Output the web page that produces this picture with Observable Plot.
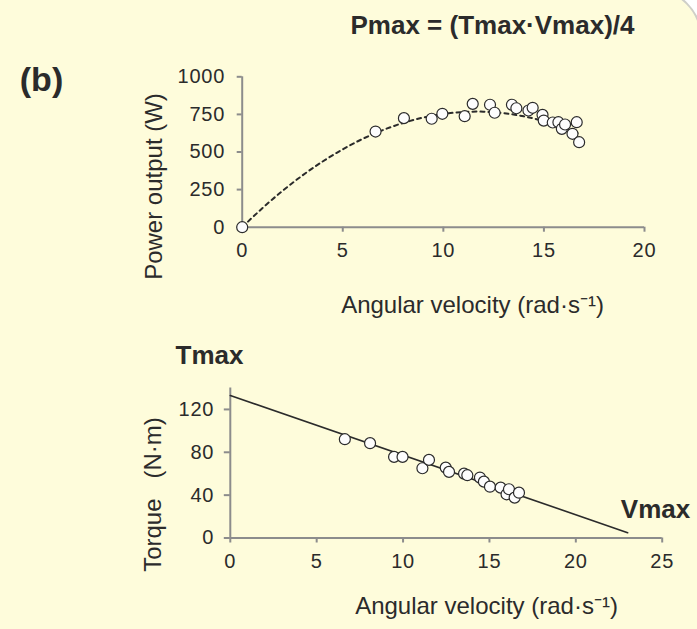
<!DOCTYPE html>
<html><head><meta charset="utf-8">
<script src="https://cdn.jsdelivr.net/npm/d3@7"></script>
<script src="https://cdn.jsdelivr.net/npm/@observablehq/plot@0.6"></script>
<style>
html,body{margin:0;padding:0;background:#fff;}
#wrap{position:relative;width:697px;height:629px;overflow:hidden;background:#fff;}
#bg{position:absolute;left:-60px;top:-12px;width:762px;height:700px;background:#FEFCDB;border:2px solid #cfcfc8;border-radius:50px;box-sizing:border-box;}
#top,#bot{position:absolute;left:0;}
#top{top:0px}
#bot{top:330px}
</style></head>
<body><div id="wrap"><div id="bg"></div><div id="top"></div><div id="bot"></div></div>
<script>
// ---- Power panel data ----
const powerVel = [0, 6.63, 8.04, 9.42, 9.95, 11.06, 11.46, 12.32, 12.55, 13.41, 13.63, 14.23, 14.44, 14.93, 14.99, 15.44, 15.72, 15.89, 16.05, 16.42, 16.63, 16.75];
const powerW   = [0, 636, 725, 721, 754, 738, 820, 814, 761, 814, 791, 776, 794, 747, 709, 696, 698, 654, 683, 621, 698, 565];
const fitVel   = [0, 1, 2, 3, 4, 5, 6, 7, 8, 9, 10, 11, 12, 13, 14, 15, 16, 16.7];
const fitPower = [0, 126, 241, 345, 437, 518, 588, 646, 693, 729, 753, 766, 768, 758, 737, 705, 661, 624];
const powerXTicks = [0, 5, 10, 15, 20];
const powerYTicks = [0, 250, 500, 750, 1000];

// ---- Torque panel data ----
const torqueVel = [6.63, 8.09, 9.48, 9.97, 11.12, 11.5, 12.47, 12.66, 13.53, 13.72, 14.45, 14.68, 15.03, 15.65, 15.99, 16.13, 16.46, 16.71];
const torqueNm  = [92.2, 88.5, 75.7, 75.7, 65.1, 72.9, 65.7, 61.7, 60.1, 58.6, 56.4, 52.6, 47.9, 47, 40.8, 45.5, 37.7, 42.3];
const lineVel   = [0, 23.0];
const lineNm    = [133, 5];
const torqueXTicks = [0, 5, 10, 15, 20, 25];
const torqueYTicks = [0, 40, 80, 120];

// ---- texts ----
const titleText = "Pmax = (Tmax\u00b7Vmax)/4";
const panelText = "(b)";
const xLabel = "Angular velocity (rad\u00b7s\u207b\u00b9)";
const powerYLabel = "Power output (W)";
const torqueYLabel = "Torque\u00a0\u00a0\u00a0(N\u00b7m)";
const tmaxText = "Tmax";
const vmaxText = "Vmax";

const FONT = "'Liberation Sans', Arial, sans-serif";
const AXIS = "#8c8c8c";
const INK = "#2b2b2b";

const powerData = powerVel.map((v, i) => ({v, p: powerW[i]}));
const fitData = fitVel.map((v, i) => ({v, p: fitPower[i]}));
const torqueData = torqueVel.map((v, i) => ({v, t: torqueNm[i]}));
const lineData = lineVel.map((v, i) => ({v, t: lineNm[i]}));

function label(str, x, y, ml, mt, o = {}) {
  return Plot.text([str], {text: d => d, frameAnchor: "top-left", dx: x - ml, dy: y - mt,
    fontFamily: FONT, fill: INK, textAnchor: "middle", lineAnchor: "middle", ...o});
}
const fmt = d => String(d);

// Top panel
const T = {ml: 241.7, mr: 53, mt: 76.3, h: 330};
T.mb = T.h - 226.7;
const topPlot = Plot.plot({
  width: 697, height: T.h,
  marginLeft: T.ml, marginRight: T.mr, marginTop: T.mt, marginBottom: T.mb,
  style: {background: "transparent", fontFamily: FONT, fontSize: "20px", color: INK, overflow: "visible"},
  x: {domain: [0, 20], axis: null},
  y: {domain: [0, 1000], axis: null},
  marks: [
    Plot.axisX({ticks: powerXTicks, tickFormat: fmt, tickSize: 5, tickPadding: 11, stroke: AXIS, strokeWidth: 2, fill: INK, fontSize: 20, label: null}),
    Plot.axisY({ticks: powerYTicks, tickFormat: fmt, tickSize: 5, tickPadding: 12, stroke: AXIS, strokeWidth: 2, fill: INK, fontSize: 20, label: null}),
    Plot.ruleX([0], {stroke: AXIS, strokeWidth: 2}),
    Plot.ruleY([0], {stroke: AXIS, strokeWidth: 2}),
    Plot.line(fitData, {x: "v", y: "p", stroke: INK, strokeWidth: 2, strokeDasharray: "4,4", curve: "natural"}),
    Plot.dot(powerData, {x: "v", y: "p", r: 5.5, fill: "#fdfdfd", stroke: INK, strokeWidth: 1.2}),
    label(titleText, 492, 25, T.ml, T.mt, {fontWeight: "bold", fontSize: 26}),
    label(panelText, 41, 80, T.ml, T.mt, {fontWeight: "bold", fontSize: 34}),
    label(powerYLabel, 154, 186, T.ml, T.mt, {fontSize: 24, rotate: -90, ariaLabel: "spaced"}),
    label(xLabel, 472, 305, T.ml, T.mt, {fontSize: 24, ariaLabel: "spaced"})
  ]
});
document.getElementById("top").appendChild(topPlot);

// Bottom panel (offset 330)
const B = {ml: 229.8, mr: 35.3, mt: 57.5, h: 299};
B.mb = B.h - 207.5;
const botPlot = Plot.plot({
  width: 697, height: B.h,
  marginLeft: B.ml, marginRight: B.mr, marginTop: B.mt, marginBottom: B.mb,
  style: {background: "transparent", fontFamily: FONT, fontSize: "20px", color: INK, overflow: "visible"},
  x: {domain: [0, 25], axis: null},
  y: {domain: [0, 140], axis: null},
  marks: [
    Plot.axisX({ticks: torqueXTicks, tickFormat: fmt, tickSize: 5, tickPadding: 11, stroke: AXIS, strokeWidth: 2, fill: INK, fontSize: 20, label: null}),
    Plot.axisY({ticks: torqueYTicks, tickFormat: fmt, tickSize: 6, tickPadding: 10, stroke: AXIS, strokeWidth: 2, fill: INK, fontSize: 20, label: null}),
    Plot.ruleX([0], {stroke: AXIS, strokeWidth: 2}),
    Plot.ruleY([0], {stroke: AXIS, strokeWidth: 2}),
    Plot.line(lineData, {x: "v", y: "t", stroke: INK, strokeWidth: 1.6}),
    Plot.dot(torqueData, {x: "v", y: "t", r: 5.5, fill: "#fdfdfd", stroke: INK, strokeWidth: 1.2}),
    label(tmaxText, 209, 355 - 330, B.ml, B.mt, {fontWeight: "bold", fontSize: 26}),
    label(vmaxText, 655, 509 - 330, B.ml, B.mt, {fontWeight: "bold", fontSize: 26}),
    label(torqueYLabel, 153, 494 - 330, B.ml, B.mt, {fontSize: 24, rotate: -90, ariaLabel: "spacedwide"}),
    label(xLabel, 486, 606 - 330, B.ml, B.mt, {fontSize: 24, ariaLabel: "spaced"})
  ]
});
document.getElementById("bot").appendChild(botPlot);

for (const svg of [topPlot, botPlot]) {
  d3.select(svg).selectAll('g[aria-label="spaced"] text').style("letter-spacing", "1.4px");
  d3.select(svg).selectAll('g[aria-label="spacedwide"] text').style("letter-spacing", "2.6px");
  d3.select(svg).selectAll('g[aria-label$="tick label"] text').style("letter-spacing", "0.8px");
}
</script></body></html>
